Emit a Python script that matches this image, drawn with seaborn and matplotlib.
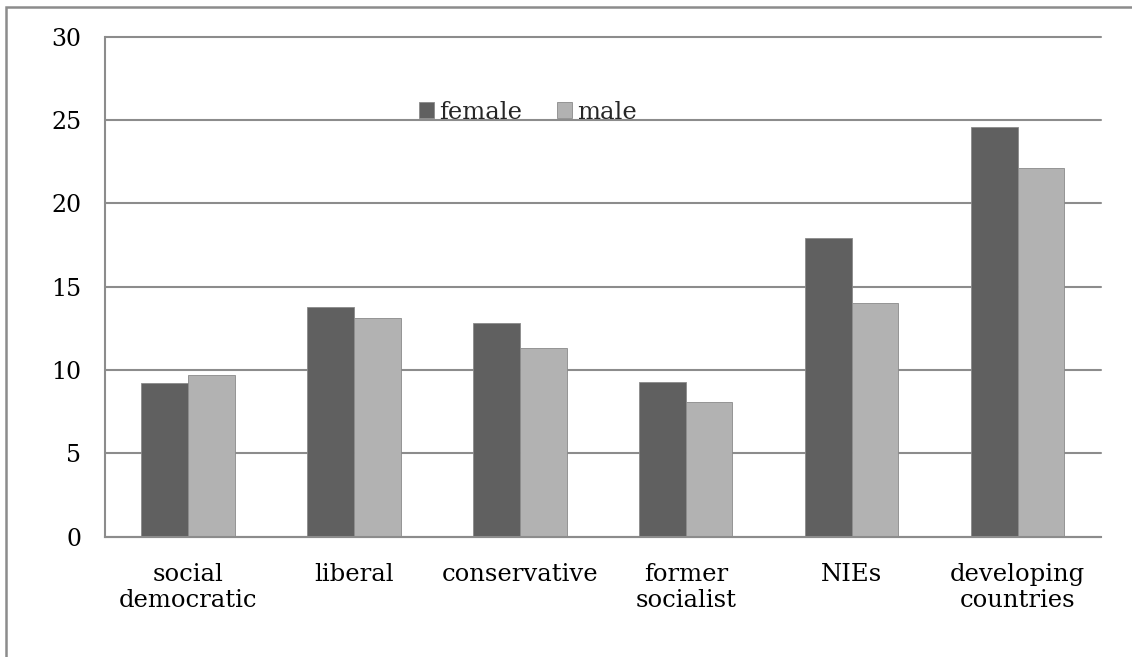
import matplotlib
matplotlib.use("Agg")
import matplotlib.pyplot as plt
from matplotlib.patches import Rectangle
import seaborn as sns
import pandas as pd

categories = ["social\ndemocratic", "liberal", "conservative",
              "former\nsocialist", "NIEs", "developing\ncountries"]
female = [9.2, 13.8, 12.8, 9.3, 17.9, 24.6]
male = [9.7, 13.1, 11.3, 8.1, 14.0, 22.1]
series = ["female", "male"]
colors = ["#606060", "#b2b2b2"]

df = pd.DataFrame({
    "category": categories * 2,
    "value": female + male,
    "sex": ["female"] * len(categories) + ["male"] * len(categories),
})

sns.set_theme(style="white")
plt.rcParams["font.family"] = ["DejaVu Serif"]

fig = plt.figure(figsize=(11.32, 6.57), dpi=100)
ax = fig.add_axes([0.0928, 0.1834, 0.8795, 0.7607])

sns.barplot(data=df, x="category", y="value", hue="sex", hue_order=series,
            palette=colors, width=0.562, saturation=1, ax=ax,
            edgecolor="#8a8a8a", linewidth=0.6, legend=True)

ax.set_ylim(0, 30)
ax.set_yticks(range(0, 31, 5))
ax.set_xlim(-0.5, len(categories) - 0.5)
ax.set_xlabel("")
ax.set_ylabel("")
ax.yaxis.grid(True, color="#8c8c8c", linewidth=1.5)
for gl in ax.get_ygridlines():
    gl.set_clip_on(False)
ax.set_axisbelow(True)
for side in ["top", "right"]:
    ax.spines[side].set_visible(False)
for side in ["left", "bottom"]:
    ax.spines[side].set_color("#8c8c8c")
    ax.spines[side].set_linewidth(1.5)
ax.tick_params(axis="y", length=0, pad=17, labelsize=17, colors="black")
ax.tick_params(axis="x", length=0, pad=19, labelsize=17.5, colors="black")
for lab in ax.get_xticklabels():
    lab.set_linespacing(1.2)

leg = ax.legend(loc="center left", bbox_to_anchor=(0.303, 0.849), ncol=2,
                frameon=False, fontsize=17.5, handlelength=0.62, handleheight=0.62,
                handletextpad=0.2, columnspacing=1.45, borderpad=0)

# outer chart frame
fig.patches.append(Rectangle((0.005, -0.2), 1.2, 1.1898, transform=fig.transFigure,
                             fill=False, edgecolor="#8c8c8c", linewidth=1.8))

fig.savefig("out.png", dpi=100, facecolor="white")
